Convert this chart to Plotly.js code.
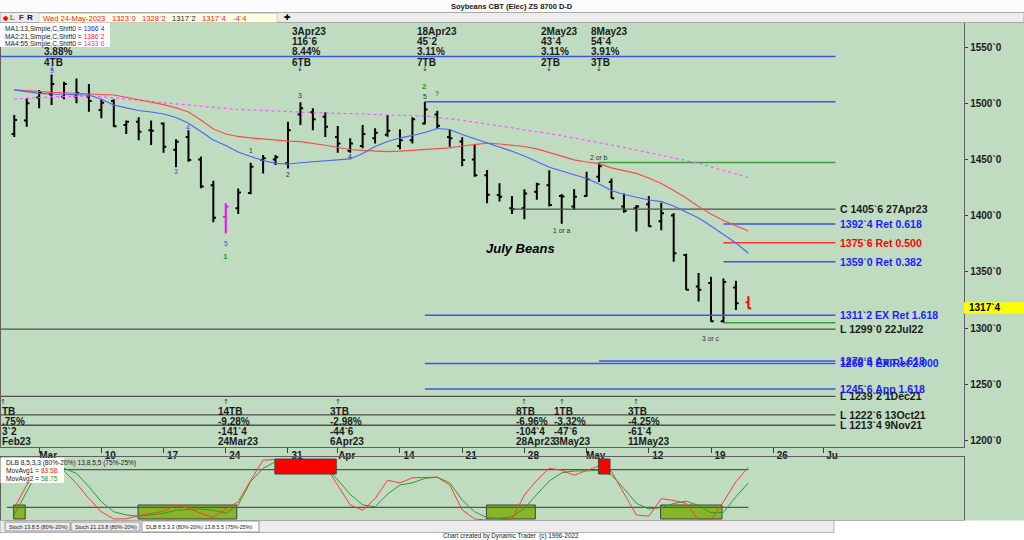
<!DOCTYPE html>
<html><head><meta charset="utf-8">
<script src="https://cdn.plot.ly/plotly-3.0.1.min.js"></script>
<style>html,body{margin:0;padding:0;background:#fff;overflow:hidden}#chart{width:1024px;height:540px}</style>
</head><body><div id="chart"></div>
<script>
// ---------------- DATA ----------------
const dates = ['2023-03-01','2023-03-02','2023-03-03','2023-03-06','2023-03-07','2023-03-08','2023-03-09','2023-03-10','2023-03-13','2023-03-14','2023-03-15','2023-03-16','2023-03-17','2023-03-20','2023-03-21','2023-03-22','2023-03-23','2023-03-24','2023-03-27','2023-03-28','2023-03-29','2023-03-30','2023-03-31','2023-04-03','2023-04-04','2023-04-05','2023-04-06','2023-04-10','2023-04-11','2023-04-12','2023-04-13','2023-04-14','2023-04-17','2023-04-18','2023-04-19','2023-04-20','2023-04-21','2023-04-24','2023-04-25','2023-04-26','2023-04-27','2023-04-28','2023-05-01','2023-05-02','2023-05-03','2023-05-04','2023-05-05','2023-05-08','2023-05-09','2023-05-10','2023-05-11','2023-05-12','2023-05-15','2023-05-16','2023-05-17','2023-05-18','2023-05-19','2023-05-22','2023-05-23','2023-05-24'];
const priorDays = ['2023-02-28'];
const futureDays = ['2023-05-25','2023-05-26','2023-05-30','2023-05-31','2023-06-01','2023-06-02','2023-06-05'];

const open  = [1472.5,1484.5,1505,1508,1505.75,1506,1506,1494,1502,1480.5,1483.5,1476,1482,1458.5,1470,1450,1427,1399,1406.5,1420,1449.5,1450,1446.5,1490,1492,1488,1470,1457.75,1462,1468.75,1472,1462,1467,1482,1490,1470,1466,1450,1436,1418.25,1406.5,1406.5,1421.25,1427,1417.5,1408,1417.5,1434.5,1430,1408,1406.5,1410,1395,1400,1365,1337,1340,1306,1336,1323];
const high  = [1489.5,1504.5,1511.75,1525.5,1519,1522,1517,1503.5,1503.5,1484.5,1487.5,1484.5,1482.75,1468,1476,1452.5,1431,1411,1424,1447,1454,1454,1483.5,1500.75,1495.5,1492,1479.75,1468.75,1480.5,1477.75,1489.5,1476.75,1487.5,1501.25,1493.25,1477,1469.75,1462.75,1440.5,1428.75,1417.5,1423.5,1429.25,1440.25,1419.25,1423.75,1439,1447.25,1433,1419.75,1409.5,1417.5,1411.5,1402,1366,1349,1345.5,1344,1342,1328.25];
const low   = [1470,1479,1495.5,1498.5,1503.5,1500,1492.5,1486.5,1479,1472.5,1467,1462.75,1456,1443,1448,1424.25,1394,1384,1401.5,1419,1437.5,1445,1442,1480.5,1476,1470,1456,1456,1460,1464.25,1470.25,1459,1464.25,1481,1477,1461.25,1444,1434.5,1411,1412.5,1401.5,1396.75,1414,1408,1392.75,1405,1416.75,1430,1415.5,1402.5,1385.75,1390,1387,1359,1333.75,1323.5,1305.5,1304.75,1316,1317.25];
const close = [1485,1500,1509,1517,1517,1509,1502,1500.5,1479.5,1483.5,1474.5,1475.5,1461.25,1465.75,1449.5,1426,1398,1408,1420.5,1443.5,1451,1452,1476,1495.5,1485.75,1479,1464.25,1464.25,1472.5,1473.75,1475.5,1467,1485.75,1494.5,1480,1468.75,1449.5,1436,1418.5,1416.75,1405.75,1419.75,1428,1409.5,1417,1416.75,1432.25,1444,1415.5,1404,1408,1390.5,1402,1366.5,1334,1334,1306,1341,1322,1317.5];

const ma13 = [1511.8,1510.2,1508.8,1508.2,1507.9,1507.7,1507.3,1503.5,1498.4,1495.8,1493.5,1492.2,1490.4,1487.3,1482.1,1474.8,1467.3,1462.4,1456.6,1452.6,1449,1446.4,1445.9,1447,1447.9,1448.6,1449.2,1450.4,1455.3,1461.5,1465.9,1469,1471.3,1473.9,1477.5,1476.6,1472.2,1468.6,1464.6,1461,1457.3,1453,1448.1,1443,1439.7,1436.6,1433,1428.1,1422.3,1418.8,1416.1,1413.9,1412.4,1408.5,1403.2,1397.9,1390.7,1383.2,1375.6,1366.5];
const ma21 = [1511.8,1511,1510.4,1509.7,1509.3,1508.9,1508.5,1508.2,1507.3,1505.3,1503.3,1501.3,1498.8,1495.9,1492.2,1485,1477,1472.6,1470.4,1469.2,1468.2,1467.1,1466.2,1465.8,1464.5,1462.6,1460.6,1458.8,1458,1457.5,1457,1457.3,1457.9,1458.6,1459.3,1460.2,1461.9,1463.3,1464.4,1463.7,1462.8,1461.5,1459.3,1455.9,1452.8,1449.6,1447.7,1446.3,1442.4,1439.9,1437.5,1433.5,1428.6,1422.3,1415.7,1408.1,1401.4,1395.6,1391.2,1386.25];
const ma55 = [1503.7,1504.6,1505,1505.7,1506,1506.3,1506.4,1505.8,1504.9,1503.7,1502.6,1501.4,1500.4,1499.3,1498.4,1497.3,1496.3,1495.2,1494.4,1494,1493.4,1492.8,1492.2,1491.7,1491.6,1491.3,1491.2,1491,1490.4,1489.9,1489.4,1489.2,1488.9,1488.6,1487.3,1486.4,1484.8,1483.1,1481.5,1479.7,1478,1476.3,1474.7,1473,1471,1469,1467.3,1465,1462.8,1460.6,1458.4,1456.1,1453.9,1451.7,1449,1446.5,1443.4,1440.3,1437.2,1433.75];

const dlbFast = [18.5,55.6,87,90,78,58,34,13,1.6,2,7,10.6,14,23,18.5,10.6,3.7,17.5,29,63,95,96,96,94,90,86,55,24,15.5,34,63,59,67,68,68,55.6,16,1.6,0,0,1.6,39.7,63,82,79,71,79,86,77,42,8,6,34,31,26.5,0,0,29,61,83.58];
const dlbSlow = [8,45,82,83,82,74,53,29,13,8,6,8,10.6,15.5,17,17.5,15.5,10.6,24,61,82,92.6,95,95,91.5,84.7,63.5,40.7,24,21,41,55.6,59,66,68,59,31.7,13,3.7,2.6,5.3,18.5,40.7,62,75,77.8,78,78.8,71.4,50,26.5,17.5,19.6,26,30,23,11.6,12,37,58.75];
const dlbBands = [80, 20];
const overboughtZones = [['2023-03-30','2023-04-06'], ['2023-05-08','2023-05-09']];
const oversoldZones = [['2023-03-01','2023-03-02'], ['2023-03-15','2023-03-27'], ['2023-04-25','2023-05-01'], ['2023-05-15','2023-05-22']];

const priceTicks = [1200,1250,1300,1350,1400,1450,1500,1550];
const priceTickText = ['1200`0','1250`0','1300`0','1350`0','1400`0','1450`0','1500`0','1550`0'];
const dateTicks = ['2023-03-03','2023-03-10','2023-03-17','2023-03-24','2023-03-31','2023-04-06','2023-04-14','2023-04-21','2023-04-28','2023-05-05','2023-05-12','2023-05-19','2023-05-26','2023-06-02'];
const dateTickText = ['Mar','10','17','24','31','Apr','14','21','28','May','12','19','26','Ju'];

const levelValue = [1541.5,1501.25,1447.25,1405.75,1392.5,1375.75,1359,1311.25,1304.75,1299,1270.75,1268.5,1245.75,1239.25,1222.75,1213.5];
const levelFrom  = [null,'2023-04-18','2023-05-08','2023-04-27','2023-05-22','2023-05-22','2023-05-22','2023-04-18','2023-05-22',null,'2023-05-08','2023-04-18','2023-04-18',null,null,null];
const levelText  = ['','','','C 1405`6 27Apr23','1392`4 Ret 0.618','1375`6 Ret 0.500','1359`0 Ret 0.382','1311`2 EX Ret 1.618','','L 1299`0 22Jul22','1270`6 App 1.618','1268`4 EX Ret 2.000','1245`6 App 1.618','L 1239`2 1Dec21','L 1222`6 13Oct21','L 1213`4 9Nov21'];
const levelKind  = ['blue','blue','green','dark','blue','red','blue','blue','green','dark','blue','blue','blue','dark','dark','dark'];
const levelEnd = '2023-06-05';

const topDates  = ['2023-03-06','2023-04-03','2023-04-18','2023-05-02','2023-05-08'];
const topLabel  = ['','3Apr23','18Apr23','2May23','8May23'];
const topAmount = ['','116`6','45`2','43`4','54`4'];
const topPct    = ['3.88%','8.44%','3.11%','3.11%','3.91%'];
const topCount  = ['4TB','6TB','7TB','2TB','3TB'];

const botDates  = ['2023-02-28','2023-03-24','2023-04-06','2023-04-28','2023-05-03','2023-05-11'];
const botCount  = ['TB','14TB','3TB','8TB','1TB','3TB'];
const botPct    = ['.75%','-9.28%','-2.98%','-6.96%','-3.32%','-4.25%'];
const botAmount = ['3`2','-141`4','-44`6','-104`4','-47`6','-61`4'];
const botLabel  = ['Feb23','24Mar23','6Apr23','28Apr23','3May23','11May23'];

const waveDates = ['2023-03-06','2023-03-20','2023-03-21','2023-03-24','2023-03-24','2023-03-28','2023-03-31','2023-04-03','2023-04-10','2023-04-18','2023-04-18','2023-04-19','2023-05-08','2023-05-03','2023-05-19'];
const waveText  = ['3','3','4','5','1','1','2','3','4','5','2','?','2 or b','1 or a','3 or c'];
const wavePrice = [1529.5,1439,1478.8,1375.6,1364,1457.5,1437,1506.5,1453,1505.6,1515.3,1509,1452,1387,1291];
const waveKind  = ['blue','blue','blue','blue','green','dark','dark','dark','dark','dark','green','dark','dark','dark','dark'];

const markedBars = {'2023-03-24':'#ff00ff','2023-05-24':'#ff0000'};
const maNames = ['MA1:13,Simple,C,Shift0','MA2:21,Simple,C,Shift0','MA4:55,Simple,C,Shift0'];
const maValueText = ['1366`4','1386`2','1433`6'];
const quote = {day:'Wed 24-May-2023', open:'1323`0', high:'1328`2', low:'1317`2', last:'1317`4', change:'-4`4'};

// ---------------- HELPERS ----------------
const calendar = priorDays.concat(dates, futureDays);
const xOf = d => calendar.indexOf(d) - priorDays.length;
const X = dates.map((d,i)=>i);
const FONT = 'Liberation Sans, Arial, sans-serif';
const PL=1, PR=964, PT=22, PB=520;
const pxX = v => (v-PL)/(PR-PL);
const pxY = v => (PB-v)/(PB-PT);
const BG = '#c0dcc0';
const COL = {blue:'#3c55ee', red:'#ff3030', green:'#3aa03a', dark:'#505050'};
const TXT = {blue:'#1c1cff', red:'#ff0000', green:'#1a9a1a', dark:'#1a1a1a'};
const WAVE = {blue:'#3a4cff', green:'#1d9a1d', dark:'#303030'};

const traces = [];
levelValue.forEach((v,k)=>{
  const x0 = levelFrom[k] ? xOf(levelFrom[k]) : -2;
  traces.push({type:'scatter',mode:'lines',x:[x0,xOf(levelEnd)],y:[v,v],
    line:{color:COL[levelKind[k]],width:levelKind[k]==='dark'?1.3:1.5},hoverinfo:'skip',showlegend:false});
});
traces.push({type:'scatter',mode:'lines',x:X,y:ma55,line:{color:'#ff55ff',width:1.2,dash:'dot'},hoverinfo:'skip',showlegend:false});
traces.push({type:'scatter',mode:'lines',x:X,y:ma21,line:{color:'#ff4a4a',width:1.2},hoverinfo:'skip',showlegend:false});
traces.push({type:'scatter',mode:'lines',x:X,y:ma13,line:{color:'#4a66ff',width:1.2},hoverinfo:'skip',showlegend:false});
function ohlcSubset(filter, color){
  const idx = X.filter(filter);
  return {type:'ohlc', x:idx, open:idx.map(i=>open[i]), high:idx.map(i=>high[i]), low:idx.map(i=>low[i]), close:idx.map(i=>close[i]),
    increasing:{line:{color:color,width:2}}, decreasing:{line:{color:color,width:2}}, tickwidth:0.22, hoverinfo:'skip', showlegend:false};
}
traces.push(ohlcSubset(i=>!markedBars[dates[i]], '#000000'));
Object.keys(markedBars).forEach(d=>traces.push(ohlcSubset(i=>dates[i]===d, markedBars[d])));
dlbBands.forEach(b=>traces.push({type:'scatter',mode:'lines',x:[-0.6,X.length-1],y:[b,b],xaxis:'x2',yaxis:'y2',line:{color:'#555555',width:1.3},hoverinfo:'skip',showlegend:false}));
traces.push({type:'scatter',mode:'lines',x:X,y:dlbSlow,xaxis:'x2',yaxis:'y2',line:{color:'#2e9a2e',width:1},hoverinfo:'skip',showlegend:false});
traces.push({type:'scatter',mode:'lines',x:X,y:dlbFast,xaxis:'x2',yaxis:'y2',line:{color:'#ff3a3a',width:1},hoverinfo:'skip',showlegend:false});

// ---------------- SHAPES ----------------
const shapes = [];
const rectPx = (x0,y0,x1,y1,fill,line,layer)=>shapes.push({type:'rect',xref:'paper',yref:'paper',x0:pxX(x0),x1:pxX(x1),y0:pxY(y1),y1:pxY(y0),fillcolor:fill,line:line||{width:0},layer:layer||'above'});
rectPx(0,0,1024,12.5,'#fbfbfb');
rectPx(0,12.5,1024,22.5,'#ececec',{color:'#9a9a9a',width:0.8});
rectPx(39,13.5,277,22.5,'#ffffe6',{color:'#c8c8a0',width:0.6});
rectPx(0,520.5,1024,540,'#ffffff');
rectPx(0,520.5,834,532.5,'#ececec',{color:'#a0a0a0',width:0.8});
rectPx(5,522,70,531,'#ececec',{color:'#808080',width:0.8});
rectPx(71,522,140,531,'#ececec',{color:'#808080',width:0.8});
rectPx(142,521,259,532,'#ffffff',{color:'#808080',width:0.8});
rectPx(0,23,110,47,'#ffffff');
rectPx(0.5,458,64,483,'#ffffff');
overboughtZones.forEach(z=>shapes.push({type:'rect',xref:'x2',yref:'y2',x0:xOf(z[0])-0.05,x1:xOf(z[1])-0.12,y0:73,y1:96.8,fillcolor:'#ff0000',line:{color:'#404040',width:1},layer:'above'}));
oversoldZones.forEach(z=>shapes.push({type:'rect',xref:'x2',yref:'y2',x0:xOf(z[0])-0.05,x1:xOf(z[1])-0.12,y0:1.6,y1:23.8,fillcolor:'#86b52a',line:{color:'#404040',width:1},layer:'below'}));
const last = close[close.length-1];
shapes.push({type:'rect',xref:'paper',yref:'y',x0:1,x1:pxX(1024),y0:last-4.7,y1:last+5.3,fillcolor:'#ffff00',line:{width:0},layer:'above'});

// ---------------- ANNOTATIONS ----------------
const ann = [];
const A = o => ann.push(Object.assign({showarrow:false,xanchor:'center',yanchor:'middle',font:{family:FONT,size:10,color:'#1a1a1a',weight:'bold'}},o));
A({xref:'paper',yref:'paper',x:pxX(512),y:pxY(6.5),text:'Soybeans CBT (Elec) ZS 8700 D-D',font:{family:FONT,size:7.5,color:'#202020',weight:'bold'}});
A({xref:'paper',yref:'paper',x:pxX(5),y:pxY(18),text:'●',font:{family:'DejaVu Sans',size:6,color:'#ff0000'}});
A({xref:'paper',yref:'paper',x:pxX(12.5),y:pxY(18),text:'L',font:{family:FONT,size:8,color:'#808000',weight:'bold'}});
A({xref:'paper',yref:'paper',x:pxX(21.5),y:pxY(18),text:'F',font:{family:FONT,size:8,color:'#a00000',weight:'bold'}});
A({xref:'paper',yref:'paper',x:pxX(29.5),y:pxY(18),text:'R',font:{family:FONT,size:8,color:'#000080',weight:'bold'}});
[[quote.day,41,'#ff2020'],[quote.open,110,'#ff2020'],[quote.high,140,'#ff2020'],[quote.low,170,'#1a1a1a'],[quote.last,200,'#ff2020'],[quote.change,231,'#ff2020']].forEach(q=>
  A({xref:'paper',yref:'paper',x:pxX(q[1]),y:pxY(18.3),xanchor:'left',text:q[0],font:{family:FONT,size:7.6,color:q[2]}}));
A({xref:'paper',yref:'paper',x:pxX(287.5),y:pxY(18),text:'✚',font:{family:'DejaVu Sans',size:8,color:'#000000'}});
const maColors = ['#2020ff','#ff2020','#ff20ff'];
maNames.forEach((n,k)=>A({xref:'paper',yref:'paper',x:pxX(3),y:pxY(29+k*7.6),xanchor:'left',
  text:n+' = <span style="color:'+maColors[k]+'">'+maValueText[k]+'</span>',font:{family:FONT,size:6.7,color:'#202020'}}));
A({xref:'paper',yref:'paper',x:pxX(4),y:pxY(462.5),xanchor:'left',text:'DLB 8,5,3,3 (80%-20%) 13,8,5,5 (75%-25%)',font:{family:FONT,size:6.6,color:'#202020'}});
A({xref:'paper',yref:'paper',x:pxX(4),y:pxY(470.5),xanchor:'left',text:'MovAvg1 = <span style="color:#ff2020">'+dlbFast[dlbFast.length-1].toFixed(2)+'</span>',font:{family:FONT,size:6.6,color:'#202020'}});
A({xref:'paper',yref:'paper',x:pxX(4),y:pxY(478.5),xanchor:'left',text:'MovAvg2 = <span style="color:#20a020">'+dlbSlow[dlbSlow.length-1].toFixed(2)+'</span>',font:{family:FONT,size:6.6,color:'#202020'}});
[['Stoch 13.8.5 (80%-20%)',7],['Stoch 21.13.8 (80%-20%)',73],['DLB 8.5.3.3 (80%-20%) 13.8.5.5 (75%-25%)',144]].forEach(t=>
  A({xref:'paper',yref:'paper',x:pxX(t[1]),y:pxY(526.5),xanchor:'left',text:t[0],font:{family:FONT,size:5.4,color:'#202020'}}));
A({xref:'paper',yref:'paper',x:pxX(511),y:pxY(535.5),text:'Chart created by Dynamic Trader  (c) 1996-2022',font:{family:FONT,size:6.3,color:'#202020'}});
A({xref:'paper',yref:'y',x:pxX(967),y:last+0.3,xanchor:'left',text:'1317`4',font:{family:FONT,size:10,color:'#000000',weight:'bold'}});
levelText.forEach((t,k)=>{ if(t) A({xref:'x',yref:'y',x:xOf(levelEnd),y:levelValue[k],xanchor:'left',xshift:3,text:t,font:{family:FONT,size:10.5,color:TXT[levelKind[k]],weight:'bold'}}); });
topDates.forEach((d,k)=>{
  const rows=[[topLabel[k],31.7],[topAmount[k],41.7],[topPct[k],51.7],[topCount[k],62.3]];
  rows.forEach(r=>{ if(r[0]) A({xref:'x',yref:'paper',x:xOf(d),xshift:-10,xanchor:'left',y:pxY(r[1]),text:r[0]}); });
  A({xref:'x',yref:'paper',x:xOf(d),y:pxY(69.5),text:'↓',font:{family:'DejaVu Sans',size:7,color:'#303030'}});
});
botDates.forEach((d,k)=>{
  const rows=[[botCount[k],411],[botPct[k],421],[botAmount[k],431],[botLabel[k],441]];
  const first = k===0;
  rows.forEach(r=>A(first?{xref:'paper',yref:'paper',x:pxX(0),xanchor:'left',y:pxY(r[1]),text:r[0]}
                        :{xref:'x',yref:'paper',x:xOf(d),xshift:-10,xanchor:'left',y:pxY(r[1]),text:r[0]}));
  A(first?{xref:'paper',yref:'paper',x:pxX(3),y:pxY(402),text:'↑',font:{family:'DejaVu Sans',size:7,color:'#303030'}}
         :{xref:'x',yref:'paper',x:xOf(d),y:pxY(402),text:'↑',font:{family:'DejaVu Sans',size:7,color:'#303030'}});
});
waveDates.forEach((d,k)=>A({xref:'x',yref:'y',x:xOf(d),y:wavePrice[k],text:waveText[k],
  font:{family:FONT,size:waveKind[k]==='green'?8:6.8,color:WAVE[waveKind[k]],weight:waveKind[k]==='green'?'bold':'normal'}}));
A({xref:'paper',yref:'paper',x:pxX(520),y:pxY(248),text:'<i>July Beans</i>',font:{family:FONT,size:13,color:'#000000',weight:'bold'}});

// ---------------- LAYOUT ----------------
const layout = {
  width:1024,height:540,margin:{l:PL,r:1024-PR,t:PT,b:540-PB},
  paper_bgcolor:BG,plot_bgcolor:BG,showlegend:false,
  xaxis:{domain:[0,1],anchor:'y',range:[(PL-PL-12.9)/12.46-0.03,(PR-12.9)/12.46],rangeslider:{visible:false},
    tickvals:dateTicks.map(xOf),ticktext:dateTickText,ticks:'outside',ticklen:5,tickcolor:'#404040',
    tickfont:{family:FONT,size:10,color:'#1a1a1a',weight:'bold'},ticklabelshift:9,ticklabelstandoff:-6,
    showline:true,linecolor:'#606060',linewidth:1,showgrid:false,zeroline:false,fixedrange:true},
  yaxis:{domain:[pxY(447),1],anchor:'x',side:'right',range:[1300-(447-328)/1.124,1300+(328-22)/1.124],
    tickvals:priceTicks,ticktext:priceTickText,ticks:'outside',ticklen:3,tickcolor:'#404040',
    tickfont:{family:FONT,size:10,color:'#1a1a1a',weight:'bold'},showline:true,mirror:true,linecolor:'#606060',linewidth:1.2,
    showgrid:false,zeroline:false,fixedrange:true},
  xaxis2:{domain:[0,1],anchor:'y2',matches:'x',showticklabels:false,ticks:'',showline:true,mirror:true,linecolor:'#606060',showgrid:false,zeroline:false},
  yaxis2:{domain:[0,pxY(457)],anchor:'x2',range:[0,100],showticklabels:false,ticks:'',showline:true,mirror:true,linecolor:'#606060',showgrid:false,zeroline:false},
  shapes:shapes,annotations:ann
};
Plotly.newPlot('chart',traces,layout,{staticPlot:true,displayModeBar:false});
</script></body></html>
